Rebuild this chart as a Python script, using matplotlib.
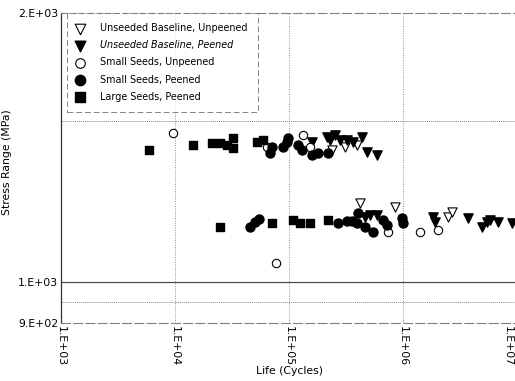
import numpy as np
import matplotlib
matplotlib.use("Agg")
import matplotlib.pyplot as plt
import matplotlib.transforms as mtransforms
from matplotlib.ticker import FixedLocator, NullLocator

# S-N data (life in cycles, stress range in MPa)
ub_unp_life = [2.38e5, 3.10e5, 3.95e5, 4.2e5, 8.5e5, 2.48e6, 2.69e6]
ub_unp_stress = [1405, 1416, 1423, 1226, 1213, 1182, 1198]

ub_p_life = [1.59e5, 2.15e5, 2.29e5, 2.53e5, 2.8e5, 3.23e5, 3.64e5, 4.37e5, 4.83e5, 5.9e5,
             4.64e5, 5.13e5, 5.9e5, 1.83e6, 1.91e6, 3.72e6, 4.93e6, 5.46e6, 5.8e6, 6.81e6, 9.04e6]
ub_p_stress = [1434, 1453, 1442, 1461, 1442, 1442, 1434, 1453, 1398, 1387,
               1182, 1188, 1188, 1182, 1167, 1179, 1152, 1167, 1173, 1167, 1164]

ss_unp_life = [9600, 6.41e4, 1.33e5, 1.53e5, 7.7e4, 7.39e5, 1.41e6, 2.03e6]
ss_unp_stress = [1468, 1416, 1461, 1416, 1050, 1138, 1138, 1143]

ss_p_life = [6.81e4, 7.09e4, 8.86e4, 9.6e4, 9.8e4, 1.2e5, 1.3e5, 1.59e5, 1.8e5, 2.2e5,
             4.55e4, 5.03e4, 5.46e4, 2.69e5, 3.23e5, 3.57e5, 3.95e5, 4.03e5, 4.64e5, 5.46e5,
             6.68e5, 7.24e5, 9.8e5, 1.0e6]
ss_p_stress = [1394, 1416, 1416, 1434, 1449, 1423, 1405, 1387, 1394, 1394,
               1152, 1167, 1176, 1164, 1170, 1170, 1164, 1195, 1152, 1138,
               1173, 1158, 1179, 1164]

ls_p_life = [5915, 1.44e4, 2.11e4, 2.48e4, 2.86e4, 3.23e4, 3.23e4, 5.24e4, 5.9e4,
             2.48e4, 7.09e4, 1.08e5, 1.25e5, 1.53e5, 2.2e5]
ls_p_stress = [1405, 1423, 1431, 1431, 1423, 1449, 1412, 1434, 1442,
               1152, 1164, 1173, 1164, 1164, 1173]

xticks = [1e3, 1e4, 1e5, 1e6, 1e7]
xticklabels = ["1.E+03", "1.E+04", "1.E+05", "1.E+06", "1.E+07"]
yticks = [900, 1000, 2000]
yticklabels = ["9.E+02", "1.E+03", "2.E+03"]

fig = plt.figure(figsize=(5.15, 3.81), dpi=100)
ax = fig.add_axes([0.1184, 0.152, 0.886, 0.814])
ax.set_xscale("log")
ax.set_yscale("log")
ax.set_xlim(1e3, 1e7)
ax.set_ylim(900, 2000)

# grid lines as in the scanned figure
for xv in [1e4, 1e5, 1e6]:
    ax.axvline(xv, color="0.55", lw=0.7, ls=(0, (1, 1.5)), zorder=0)
ax.axhline(1515, color="0.5", lw=0.7, ls=(0, (1, 1)), zorder=0)
ax.axhline(1000, color="0.3", lw=0.9, ls="-", zorder=0)
ax.axhline(950, color="0.55", lw=0.7, ls=(0, (1, 1)), zorder=0)

for side in ["top", "right", "bottom"]:
    ax.spines[side].set_color("0.5")
    ax.spines[side].set_linestyle((0, (8, 3)))
    ax.spines[side].set_linewidth(0.8)
ax.spines["left"].set_color("0.2")
ax.spines["left"].set_linewidth(0.9)

ms = 36
ax.scatter(ub_unp_life, ub_unp_stress, marker="v", s=ms + 8, facecolors="white",
           edgecolors="k", linewidths=0.8, label="Unseeded Baseline, Unpeened", zorder=3)
ax.scatter(ub_p_life, ub_p_stress, marker="v", s=ms + 8, c="k",
           label="Unseeded Baseline, Peened", zorder=3)
ax.scatter(ss_unp_life, ss_unp_stress, marker="o", s=ms, facecolors="white",
           edgecolors="k", linewidths=0.8, label="Small Seeds, Unpeened", zorder=3)
ax.scatter(ss_p_life, ss_p_stress, marker="o", s=ms + 6, c="k",
           label="Small Seeds, Peened", zorder=3)
ax.scatter(ls_p_life, ls_p_stress, marker="s", s=ms, c="k",
           label="Large Seeds, Peened", zorder=3)

ax.xaxis.set_major_locator(FixedLocator(xticks))
ax.xaxis.set_minor_locator(NullLocator())
ax.set_xticklabels(xticklabels, rotation=-90, fontsize=7.8)
ax.yaxis.set_major_locator(FixedLocator(yticks))
ax.yaxis.set_minor_locator(NullLocator())
ax.set_yticklabels(yticklabels, fontsize=7.8)
ax.tick_params(length=0, pad=2)

# last tick label sits a bit inside the right edge, as in the scan
last = ax.get_xticklabels()[-1]
last.set_transform(last.get_transform() +
                   mtransforms.ScaledTranslation(-9 / 100, 0, fig.dpi_scale_trans))

ax.set_xlabel("Life (Cycles)", fontsize=7.8, labelpad=0)
ax.set_ylabel("Stress Range (MPa)", fontsize=7.8)
ax.yaxis.set_label_coords(-0.107, 0.52)

leg = ax.legend(loc="upper left", bbox_to_anchor=(0.013, 1.0), fontsize=6.9,
                frameon=True, fancybox=False, borderpad=1.05, labelspacing=0.75,
                handletextpad=1.8, handlelength=0.6, borderaxespad=0.0,
                markerscale=1.15)
leg.get_frame().set_edgecolor("0.4")
leg.get_frame().set_linestyle((0, (6, 3)))
leg.get_frame().set_linewidth(0.7)
leg.get_texts()[1].set_style("italic")

plt.savefig("out.png", dpi=100)
